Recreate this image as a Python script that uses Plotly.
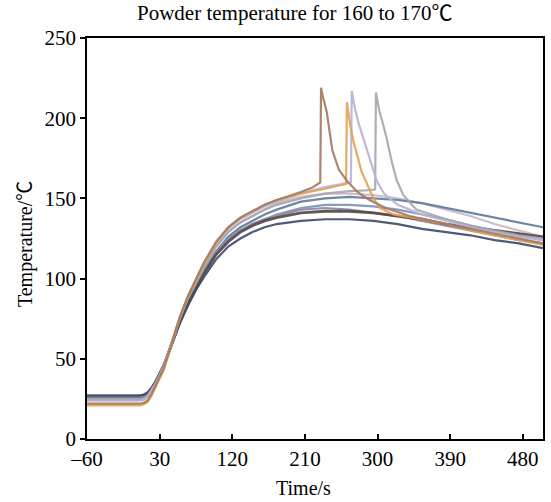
import plotly.graph_objects as go

# ---- data ----
T_RISE = [-60, -30, 0, 5, 10, 15, 20, 25, 35, 45, 55, 65, 75, 85, 100, 115, 130, 145, 160]
T_LATE = [175, 205, 235, 265, 295, 325, 355, 385, 415, 445, 475, 505]

# smooth series (no ignition spike)
pink_rise  = [24, 24, 24, 24, 24.5, 26, 30, 34, 45, 60, 75, 88, 98, 107, 120, 129, 135, 139, 143]
pink_late  = [147, 151, 153, 153, 152, 150, 147, 143, 139, 134, 130, 126]

blue1_rise = [27, 27, 27, 27, 27.5, 29, 32, 36, 46, 60, 74, 86, 96, 105, 117, 126, 132, 136, 140]
blue1_late = [143, 148, 150, 151, 150, 149, 147, 144, 141, 138, 135, 132]

blue2_rise = [26, 26, 26, 26, 26.5, 28, 31, 35, 45, 59, 73, 85, 95, 104, 116, 125, 130, 134, 137]
blue2_late = [140, 144, 146, 146, 145, 143, 140, 137, 133, 130, 127, 124]

dbrown_rise = [25, 25, 25, 25, 25.5, 27, 31, 35, 45, 59, 73, 84, 94, 103, 115, 123, 129, 133, 136]
dbrown_late = [138, 141, 142, 142, 141, 139, 137, 134, 132, 130, 128, 126]

purple_rise = [25, 25, 25, 25, 25.5, 27, 31, 35, 45, 59, 73, 85, 95, 104, 116, 124, 130, 134, 137]
purple_late = [139, 143, 144, 143, 141, 139, 136, 133, 130, 127, 124, 122]

navy_rise  = [27, 27, 27, 27, 27.5, 29, 32, 36, 46, 59, 72, 83, 93, 101, 112, 120, 125, 129, 132]
navy_late  = [134, 136, 137, 137, 136, 134, 131, 129, 127, 124, 122, 119]

# series with an ignition spike
brown_rise = [22, 22, 22, 22, 22.5, 24, 28, 33, 44, 60, 76, 89, 100, 110, 123, 132, 138, 142, 146]
brown_t    = [175, 205, 220, 229, 230, 232, 237, 244, 252, 262, 275, 290, 310, 340, 385, 415, 445, 475, 505]
brown_v    = [149, 154, 157, 160, 219, 214, 204, 180, 168, 161, 154, 149, 144, 139, 134, 131, 128, 125, 122]

orange_rise = [21, 21, 21, 21, 21.5, 23, 27, 32, 43, 59, 75, 88, 99, 109, 122, 132, 138, 142, 146]
orange_t    = [175, 205, 235, 255, 261, 262, 266, 270, 274, 280, 287, 295, 303, 320, 348, 385, 415, 445, 475, 505]
orange_v    = [149, 153, 156, 158, 159, 210, 196, 186, 178, 167, 159, 150, 144, 140, 137.5, 134, 130, 127, 124, 121]

lav_rise = [24, 24, 24, 24, 24.5, 26, 30, 34, 45, 60, 76, 89, 100, 110, 122, 131, 137, 141, 145]
lav_t    = [175, 205, 235, 260, 267, 268, 272, 277, 282, 290, 299, 308, 325, 355, 385, 415, 445, 475, 505]
lav_v    = [148, 153, 157, 159, 160, 217, 206, 196, 188, 174, 161, 153, 146, 140, 136, 132, 129, 126, 124]

gray_rise = [25, 25, 25, 25, 25.5, 27, 31, 35, 45, 60, 75, 88, 98, 107, 120, 129, 135, 139, 143]
gray_t    = [175, 205, 235, 265, 285, 297, 298, 302, 307, 311, 318, 324, 332, 348, 385, 415, 445, 475, 505]
gray_v    = [146, 150, 153, 154.5, 155, 155.5, 216, 205, 196, 188, 172, 161, 152, 143, 137, 133, 130, 127, 125]

X_TICKS = [-60, 30, 120, 210, 300, 390, 480]
X_TICK_TEXT = ["\u201360", "30", "120", "210", "300", "390", "480"]
Y_TICKS = [0, 50, 100, 150, 200, 250]

series = [
    ("pink", T_RISE + T_LATE, pink_rise + pink_late, "#cbbac6", 2.2),
    ("blue1", T_RISE + T_LATE, blue1_rise + blue1_late, "#5f7d9f", 2.2),
    ("blue2", T_RISE + T_LATE, blue2_rise + blue2_late, "#7c95b8", 2.2),
    ("purple", T_RISE + T_LATE, purple_rise + purple_late, "#8f87a6", 2.2),
    ("dbrown", T_RISE + T_LATE, dbrown_rise + dbrown_late, "#5a4848", 2.8),
    ("navy", T_RISE + T_LATE, navy_rise + navy_late, "#3f4d6e", 2.2),
    ("gray", T_RISE + gray_t, gray_rise + gray_v, "#a9a8ad", 2.2),
    ("lavender", T_RISE + lav_t, lav_rise + lav_v, "#b8b4d8", 2.2),
    ("orange", T_RISE + orange_t, orange_rise + orange_v, "#e2a455", 2.2),
    ("brown", T_RISE + brown_t, brown_rise + brown_v, "#a77b62", 2.2),
]

fig = go.Figure()
for name, t, v, c, w in series:
    fig.add_trace(go.Scatter(x=t, y=v, mode="lines", name=name,
                             line=dict(color=c, width=w), opacity=0.92,
                             showlegend=False, hoverinfo="skip"))

FONT = "Liberation Serif, Times New Roman, Noto Sans CJK SC, serif"

fig.update_layout(
    width=551, height=502,
    margin=dict(l=87, r=8, t=38, b=63),
    paper_bgcolor="white", plot_bgcolor="white",
    font=dict(family=FONT, size=21, color="black"),
    title=dict(text="Powder temperature for 160 to 170\u2103",
               x=0.535, xanchor="center", xref="container",
               y=1 - 13 / 502, yanchor="middle", yref="container",
               font=dict(family=FONT, size=21, color="black")),
    annotations=[
        dict(text="Time/s", xref="paper", yref="paper", x=0.474, y=-0.122,
             xanchor="center", yanchor="middle", showarrow=False,
             font=dict(family=FONT, size=20, color="black")),
        dict(text="Temperature/\u2103", xref="paper", yref="paper", x=-0.136, y=0.486,
             xanchor="center", yanchor="middle", showarrow=False, textangle=-90,
             font=dict(family=FONT, size=20, color="black")),
    ],
)
fig.update_xaxes(range=[-60, 505], tickvals=X_TICKS, ticktext=X_TICK_TEXT,
                 ticks="inside", ticklen=5, tickwidth=1.5, tickcolor="black",
                 showline=True, linecolor="black", linewidth=1.8, mirror=True,
                 showgrid=False, zeroline=False, automargin=False,
                 tickfont=dict(size=21))
fig.update_yaxes(range=[0, 250], tickvals=Y_TICKS,
                 ticks="outside", ticklen=5, tickwidth=1.5, tickcolor="black",
                 showline=True, linecolor="black", linewidth=1.8, mirror=True,
                 showgrid=False, zeroline=False, automargin=False,
                 tickfont=dict(size=21))

fig.write_html("out.html", config={"displayModeBar": False},
               post_script="document.body.style.margin='0';document.body.style.overflow='hidden';")
